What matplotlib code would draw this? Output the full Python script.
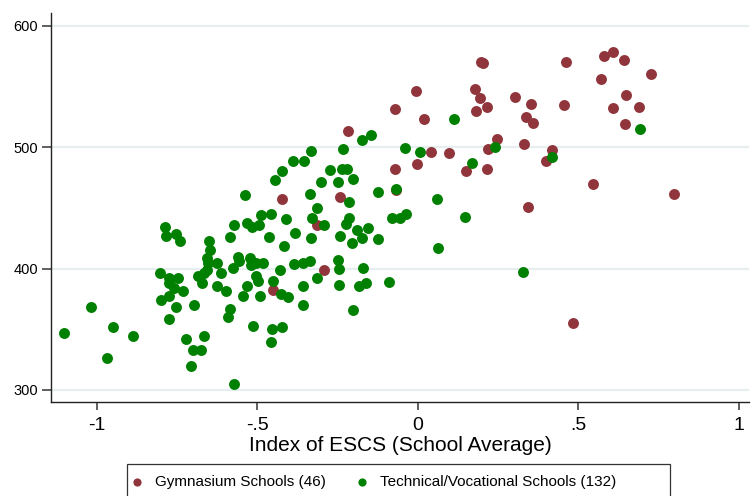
import matplotlib
matplotlib.use("Agg")
import matplotlib.pyplot as plt
from matplotlib.patches import Rectangle

plt.rcParams['font.family'] = ['Liberation Sans', 'DejaVu Sans']

# Gymnasium schools (46)
gym_x = [-0.421, -0.452, 0.196, 0.202, -0.006, 0.178, 0.193, -0.072, 0.181, 0.215,
         0.019, -0.218, 0.246, 0.040, 0.097, 0.218, -0.072, -0.003, 0.150, 0.215,
         -0.243, -0.069, -0.312, -0.293, 0.461, 0.579, 0.607, 0.642, 0.726, 0.570,
         0.302, 0.352, 0.455, 0.648, 0.607, 0.688, 0.336, 0.358, 0.645, 0.330,
         0.417, 0.399, 0.545, 0.798, 0.343, 0.483]
gym_y = [457.5, 382.2, 570.0, 569.1, 546.0, 547.6, 540.2, 531.1, 529.4, 532.8,
         522.8, 512.9, 507.1, 496.4, 495.5, 498.8, 482.3, 486.4, 480.6, 482.3,
         459.1, 464.9, 436.0, 398.8, 570.0, 574.9, 578.2, 571.6, 560.0, 555.9,
         541.0, 535.2, 534.4, 542.7, 531.9, 532.8, 524.5, 519.5, 518.7, 503.0,
         498.0, 488.9, 469.9, 461.6, 450.9, 354.9]

# Technical / vocational schools (132)
tech_x = [-0.539, -0.788, -0.785, -0.754, -0.741, -0.573, -0.586, -0.530, -0.517, -0.495,
          -0.489, -0.458, -0.411, -0.464, -0.383, -0.417, -0.651, -0.648, -0.657, -0.654,
          -0.626, -0.561, -0.558, -0.576, -0.523, -0.520, -0.502, -0.483, -0.430, -0.386,
          -0.657, -0.667, -0.685, -0.673, -0.611, -0.804, -0.773, -0.745, -0.776, -0.760,
          -0.732, -0.773, -0.798, -0.754, -0.773, -0.698, -0.626, -0.598, -0.533, -0.545,
          -0.505, -0.498, -0.492, -0.452, -0.427, -0.405, -0.586, -0.592, -0.514, -0.455,
          -0.424, -0.458, -1.016, -1.103, -0.950, -0.888, -0.969, -0.720, -0.667, -0.701,
          -0.676, -0.707, -0.573, -0.336, -0.215, -0.125, 0.059, -0.312, -0.330, -0.293,
          -0.215, -0.224, -0.190, -0.156, -0.174, -0.206, -0.243, -0.333, -0.081, -0.056,
          -0.037, -0.125, 0.146, 0.062, -0.358, -0.336, -0.249, -0.246, -0.171, -0.315,
          -0.358, -0.246, -0.184, -0.162, -0.090, -0.358, -0.202, 0.112, -0.174, -0.146,
          -0.234, -0.333, -0.389, -0.355, -0.421, -0.040, 0.006, -0.274, -0.237, -0.221,
          -0.202, -0.249, -0.302, -0.069, 0.168, 0.240, -0.445, 0.417, 0.692, 0.327]
tech_y = [460.8, 434.3, 426.9, 428.5, 422.7, 436.0, 426.1, 437.6, 434.3, 436.0,
          444.3, 445.1, 440.9, 426.1, 429.4, 418.6, 422.7, 415.3, 408.7, 404.5,
          404.5, 409.5, 406.2, 400.4, 408.7, 402.9, 404.5, 404.5, 398.8, 403.7,
          398.8, 396.3, 393.8, 388.0, 396.3, 396.3, 392.1, 392.1, 388.0, 383.9,
          381.4, 377.3, 373.9, 368.2, 358.2, 369.8, 385.5, 381.4, 385.5, 377.3,
          393.8, 389.7, 377.3, 389.7, 378.9, 376.4, 366.5, 359.9, 352.4, 350.0,
          351.6, 339.2, 368.2, 346.7, 351.6, 344.2, 326.0, 341.7, 344.2, 332.6,
          332.6, 319.4, 305.3, 461.6, 455.0, 463.3, 457.5, 450.0, 441.8, 436.0,
          441.8, 436.8, 431.8, 433.5, 425.2, 421.1, 426.9, 425.2, 441.8, 441.8,
          445.1, 424.4, 442.6, 417.0, 404.5, 406.2, 407.0, 399.6, 400.4, 392.1,
          385.5, 386.4, 385.5, 388.0, 388.8, 369.8, 365.7, 522.8, 506.3, 510.4,
          498.8, 497.2, 488.9, 488.9, 480.6, 499.7, 496.4, 481.5, 482.3, 482.3,
          474.0, 471.5, 471.5, 465.8, 487.3, 500.5, 473.2, 492.2, 514.6, 397.1]

labels = ["Gymnasium Schools (46)", "Technical/Vocational Schools (132)"]
colors = ["#90353B", "#008000"]
x_ticks = [-1, -0.5, 0, 0.5, 1]
x_tick_labels = ["-1", "-.5", "0", ".5", "1"]
y_ticks = [300, 400, 500, 600]

W, H = 753, 496
fig = plt.figure(figsize=(W / 100, H / 100), dpi=100)
ax = fig.add_axes([51 / W, 1 - 401.5 / H, (749 - 51) / W, (401.5 - 13) / H])

ax.scatter(gym_x, gym_y, s=62, color=colors[0], linewidths=0, label=labels[0], zorder=3)
ax.scatter(tech_x, tech_y, s=62, color=colors[1], linewidths=0, label=labels[1], zorder=3)

ax.set_xlim(-1.142, 1.032)
ax.set_ylim(290.5, 610.5)
ax.set_xticks(x_ticks)
ax.set_xticklabels(x_tick_labels)
ax.set_yticks(y_ticks)

for v in y_ticks:
    ax.axhline(v, color="#E6EEF0", lw=1.6, zorder=1)

for s in ["top", "right"]:
    ax.spines[s].set_visible(False)
for s in ["left", "bottom"]:
    ax.spines[s].set_color("#222222")
    ax.spines[s].set_linewidth(1.0)

ax.tick_params(axis="y", length=6.5, width=1.2, color="#444444", labelsize=10.5, pad=3)
ax.tick_params(axis="x", length=5.5, width=1.2, color="#444444", labelsize=14, pad=6)
ax.set_xlabel("Index of ESCS (School Average)", fontsize=15, labelpad=1)

# legend box (extends past the bottom edge as in the reference)
fig.patches.append(Rectangle((127 / W, -0.05), (670 - 127) / W, (496 - 464) / H + 0.05,
                             transform=fig.transFigure, fill=False,
                             edgecolor="#333333", lw=0.9))
fig.legend(loc="center left", bbox_to_anchor=(129.4 / W, 1 - 482 / H), ncol=2,
           frameon=False, fontsize=11, markerscale=0.75, handletextpad=0.68,
           columnspacing=1.85, handlelength=1.0, borderaxespad=0, borderpad=0)

fig.savefig("out.png", dpi=100)
